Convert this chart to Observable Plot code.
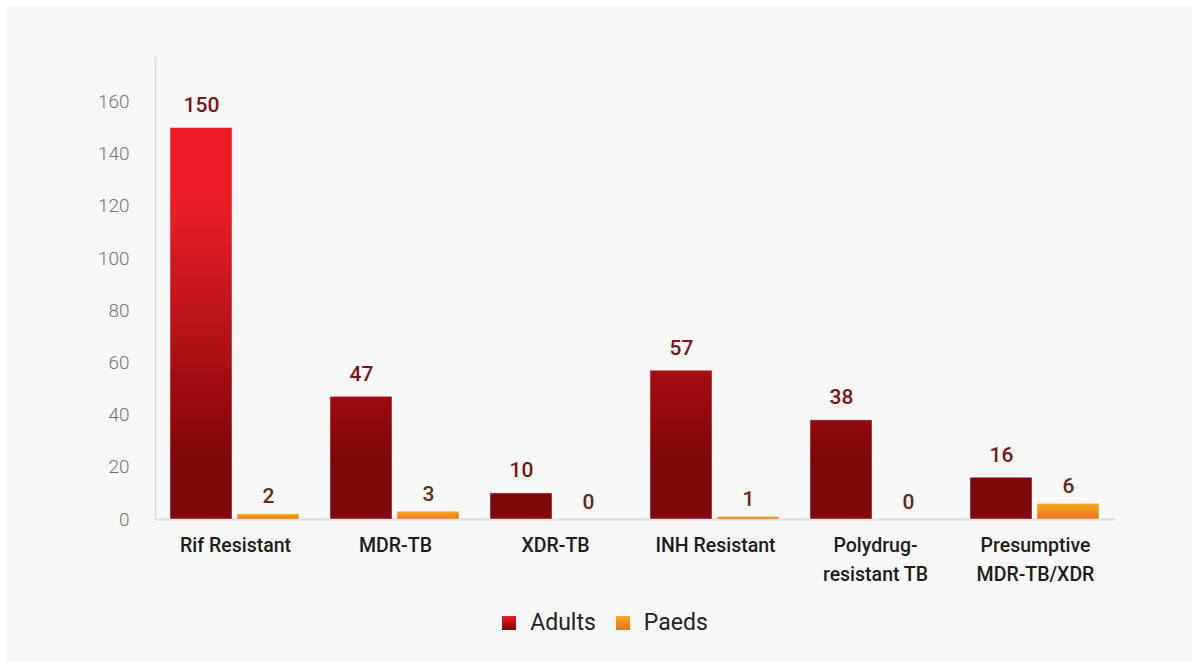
<!DOCTYPE html>
<html><head><meta charset="utf-8">
<script src="https://cdn.jsdelivr.net/npm/d3@7"></script>
<script src="https://cdn.jsdelivr.net/npm/@observablehq/plot@0.6"></script>
<style>
html,body{margin:0;padding:0;background:#fff;}
#panel{position:absolute;left:7px;top:6px;width:1185px;height:656px;background:#f7f7f7;font-family:Roboto,sans-serif;}
#chart svg{display:block;}
#legend{position:absolute;top:606px;left:0;width:100%;display:flex;justify-content:center;align-items:center;font-size:23px;color:#222;padding-left:11px;box-sizing:border-box;line-height:22px;}
.item{display:flex;align-items:center;margin:0 10px;}
.sw{width:14px;height:14px;display:inline-block;margin-right:14px;}
</style></head><body>
<div id="panel"><div id="chart"></div><div id="legend"></div></div>
<script>
const categories = ["Rif Resistant", "MDR-TB", "XDR-TB", "INH Resistant", "Polydrug-\nresistant TB", "Presumptive\nMDR-TB/XDR"];
const series = ["Adults", "Paeds"];
const adults = [150, 47, 10, 57, 38, 16];
const paeds = [2, 3, 0, 1, 0, 6];
const yTicks = [0, 20, 40, 60, 80, 100, 120, 140, 160];
const yMax = 177;

const colors = {
  adultsTop: "#ee1d25", adultsBottom: "#7f0709",
  paedsTop: "#f9a81e", paedsBottom: "#e87324",
  adultsLabel: "#7c1416", paedsLabel: "#652a12"
};

const data = categories.flatMap((c, i) => [
  {category: c, series: "Adults", value: adults[i]},
  {category: c, series: "Paeds", value: paeds[i]}
]);
const adultData = data.filter(d => d.series === "Adults");
const paedData = data.filter(d => d.series === "Paeds");

const chart = Plot.plot({
  width: 1185,
  height: 592,
  marginLeft: 146,
  marginRight: 76,
  marginTop: 51,
  marginBottom: 79,
  style: {background: "transparent", fontFamily: "Roboto, sans-serif", overflow: "visible"},
  fx: {domain: categories, padding: 0, label: null},
  x: {domain: series, paddingInner: 0.0735, paddingOuter: 0.217, axis: null},
  y: {domain: [0, yMax], label: null},
  marks: [
    Plot.frame({anchor: "left", facetAnchor: "left", stroke: "#d6d6d6", strokeWidth: 1.5}),
    Plot.ruleY([0], {stroke: "#dcdcdc", strokeWidth: 2}),
    Plot.axisY({ticks: yTicks, tickSize: 0, tickPadding: 26, fontSize: 19, fontWeight: 300, fill: "#737373", label: null}),
    Plot.axisFx({anchor: "bottom", tickSize: 0, tickPadding: 13, fontSize: 19.5, fontWeight: 500, fill: "#1c1c1c", lineHeight: 1.44, label: null}),
    Plot.barY(adultData.filter(d => d.value > 0), {fx: "category", x: "series", y: "value", fill: "url(#gradAdults)", stroke: "#ffffff", strokeOpacity: 0.45, strokeWidth: 1}),
    Plot.barY(paedData.filter(d => d.value > 0), {fx: "category", x: "series", y: "value", fill: "url(#gradPaeds)", stroke: "#ffffff", strokeOpacity: 0.45, strokeWidth: 1}),
    Plot.text(adultData, {fx: "category", x: "series", y: "value", text: d => String(d.value), lineAnchor: "bottom", dy: -16, fontSize: 21, fontWeight: 500, fill: colors.adultsLabel}),
    Plot.text(paedData, {fx: "category", x: "series", y: "value", text: d => String(d.value), lineAnchor: "bottom", dy: -11, fontSize: 21, fontWeight: 500, fill: colors.paedsLabel})
  ]
});

// gradients
const ys = chart.scale("y");
const yTop = ys.apply(d3.max(adults));
const yBase = ys.apply(0);
const ns = "http://www.w3.org/2000/svg";
const defs = document.createElementNS(ns, "defs");
function grad(id, attrs, stops) {
  const g = document.createElementNS(ns, "linearGradient");
  g.setAttribute("id", id);
  for (const [k, v] of Object.entries(attrs)) g.setAttribute(k, v);
  for (const [o, c] of stops) {
    const s = document.createElementNS(ns, "stop");
    s.setAttribute("offset", o);
    s.setAttribute("stop-color", c);
    g.appendChild(s);
  }
  defs.appendChild(g);
}
grad("gradAdults", {gradientUnits: "userSpaceOnUse", x1: 0, x2: 0, y1: yTop, y2: yBase},
  [[0, colors.adultsTop], [0.18, colors.adultsTop], [0.85, colors.adultsBottom], [1, colors.adultsBottom]]);
grad("gradPaeds", {x1: 0, x2: 0, y1: 0, y2: 1},
  [[0, colors.paedsTop], [1, colors.paedsBottom]]);
chart.insertBefore(defs, chart.firstChild);
document.getElementById("chart").appendChild(chart);

// legend
const legend = document.getElementById("legend");
const swatchBg = {
  Adults: `linear-gradient(${colors.adultsTop}, ${colors.adultsBottom})`,
  Paeds: `linear-gradient(${colors.paedsTop}, ${colors.paedsBottom})`
};
for (const s of series) {
  const item = document.createElement("div");
  item.className = "item";
  const sw = document.createElement("span");
  sw.className = "sw";
  sw.style.background = swatchBg[s];
  const t = document.createElement("span");
  t.textContent = s;
  item.appendChild(sw);
  item.appendChild(t);
  legend.appendChild(item);
}
</script>
</body></html>
